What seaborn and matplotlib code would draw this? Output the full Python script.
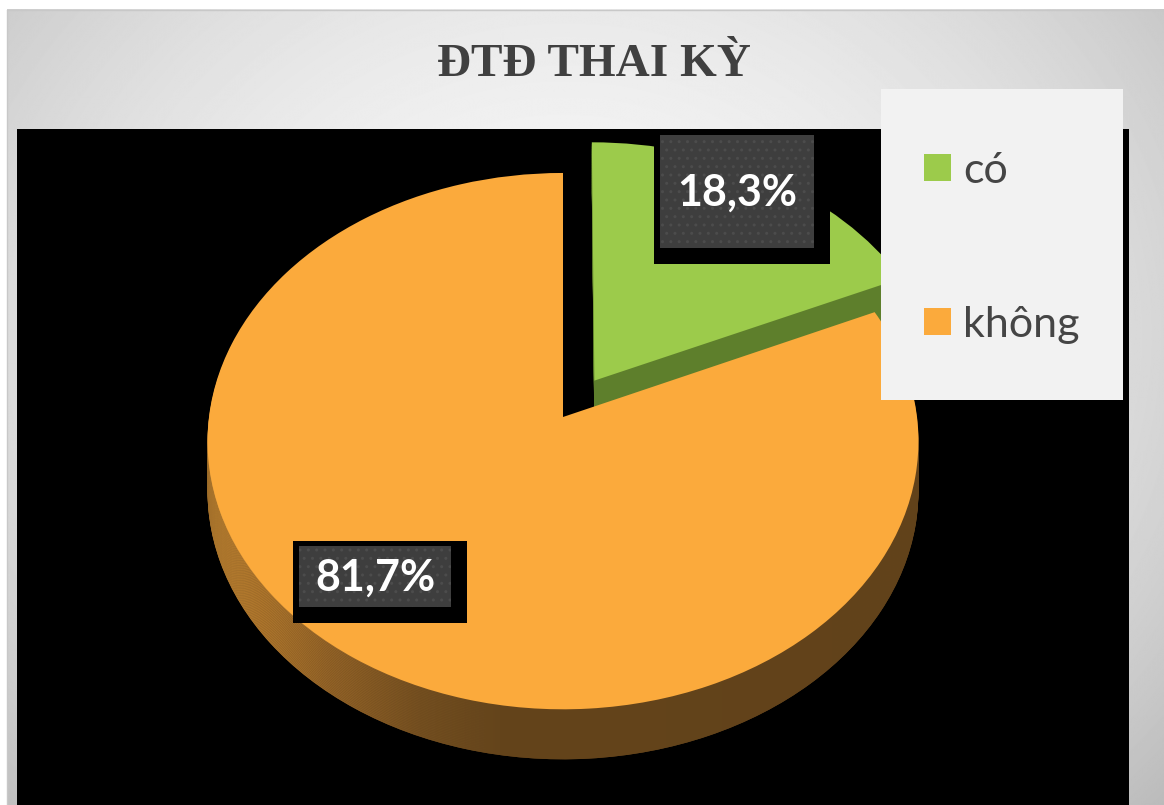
import numpy as np
import matplotlib
matplotlib.use("Agg")
import matplotlib.pyplot as plt
from matplotlib.patches import Rectangle
from matplotlib.transforms import Transform
import seaborn as sns

# ---------------- data ----------------
categories = ["có", "không"]
values = [18.3, 81.7]
value_labels = ["18,3%", "81,7%"]
title = "ĐTĐ THAI KỲ"

# ---------------- style ----------------
sns.set_style("white")
top_colors = sns.color_palette(["#9ccb4b", "#fbaa3c"])
side_colors = sns.color_palette(["#5e7f2c", "#66451c"])
plt.rcParams["font.family"] = ["Lato", "DejaVu Sans"]

W, H = 1164, 805
fig = plt.figure(figsize=(W / 100, H / 100), dpi=100)
fig.patch.set_facecolor("white")

# background axes in pixel coordinates
bg = fig.add_axes([0, 0, 1, 1], zorder=0)
bg.set_xlim(0, W)
bg.set_ylim(H, 0)
bg.axis("off")

yy, xx = np.mgrid[0:H, 0:W]
r2 = ((xx - 560) / 700.0) ** 2 + ((yy - 330) / 600.0) ** 2
grad = np.clip(0.965 - 0.17 * r2, 0, 1)
bg.imshow(grad, extent=(7, W, H, 10), cmap="gray", vmin=0, vmax=1,
          aspect="auto", interpolation="bilinear")
bg.plot([7, W], [10, 10], color="#c8c8c8", lw=1)
bg.plot([7, 7], [10, H], color="#c8c8c8", lw=1)
bg.add_patch(Rectangle((17, 129), 1129 - 17, H - 129 + 2, facecolor="black",
                       edgecolor="none"))
bg.set_xlim(0, W)
bg.set_ylim(H, 0)

bg.text(594, 76, title, ha="center", va="baseline", fontsize=34,
        fontweight="bold", color="#404040",
        family=["Liberation Serif", "DejaVu Serif"])


# ---------------- perspective view of the pie plane ----------------
class Perspective(Transform):
    input_dims = output_dims = 2
    is_separable = False
    has_inverse = False

    def __init__(self, cx, cy, a, b, k, dy=0.0):
        super().__init__()
        self.p = (cx, cy, a, b, k, dy)

    def transform_non_affine(self, values):
        cx, cy, a, b, k, dy = self.p
        values = np.asarray(values, dtype=float)
        u, v = values[:, 0], values[:, 1]
        den = 1.0 + k * v
        return np.column_stack([cx + a * u / den, cy - b * v / den + dy])


CX, CY = 563, 417      # projected pie centre (pixels)
A, B, K = 354, 266, 0.09
DEPTH = 50             # thickness in pixels

pax = fig.add_axes([0, 0, 1, 1], zorder=1)
pax.patch.set_alpha(0)

explode = [0.165, 0.0]
nlayers = 30

# horizontal gradient for orange side
xs = np.arange(W)
stops_x = [200, 260, 330, 420, 500, 1164]
stops_c = np.array([[0xcc, 0x8e, 0x36], [0xb4, 0x7a, 0x2e], [0x93, 0x63, 0x27],
                    [0x74, 0x4f, 0x20], [0x64, 0x44, 0x1b], [0x60, 0x41, 0x1a]]) / 255.0
side_grad = np.stack([np.interp(xs, stops_x, stops_c[:, k]) for k in range(3)], axis=-1)[None, :, :]

z = 1.0
for i in range(nlayers, 0, -1):
    T = Perspective(CX, CY, A, B, K, DEPTH * i / nlayers) + pax.transData
    wedges, _ = pax.pie(values, colors=side_colors, startangle=90,
                        counterclock=False, explode=explode, radius=1.0,
                        center=(0, 0), frame=True,
                        wedgeprops=dict(linewidth=0))
    for w in wedges:
        w.set_transform(T)
        w.set_zorder(z)
    im = pax.imshow(side_grad, extent=(0, W, H, 0), aspect="auto",
                    zorder=z + 0.001, interpolation="bilinear")
    im.set_clip_path(wedges[1])
    z += 0.01

T0 = Perspective(CX, CY, A, B, K, 0.0) + pax.transData
tops, _ = pax.pie(values, colors=top_colors, startangle=90, counterclock=False,
                  explode=explode, radius=1.0, center=(0, 0), frame=True,
                  wedgeprops=dict(linewidth=0))
for w in tops:
    w.set_transform(T0)
    w.set_zorder(z + 1)

pax.set_aspect("auto")
pax.set_xlim(0, W)
pax.set_ylim(H, 0)
pax.axis("off")

# ---------------- overlay: data labels + legend ----------------
ov = fig.add_axes([0, 0, 1, 1], zorder=2)
ov.patch.set_alpha(0)
ov.set_xlim(0, W)
ov.set_ylim(H, 0)
ov.axis("off")

label_boxes = [(660, 135, 154, 113), (299, 546, 152, 61)]
for (x0, y0, bw, bh), txt in zip(label_boxes, value_labels):
    ov.add_patch(Rectangle((x0 - 6, y0 - 5), bw + 22, bh + 21,
                           facecolor="black", edgecolor="none"))
    ov.add_patch(Rectangle((x0, y0), bw, bh, facecolor="#3e3e3e",
                           edgecolor="#4c4c4c", hatch="..", linewidth=0))
    ov.text(x0 + bw / 2, y0 + bh / 2 + 1, txt, ha="center", va="center",
            fontsize=31, fontweight="bold", color="white")

# legend box
ov.add_patch(Rectangle((881, 89), 1123 - 881, 400 - 89, facecolor="#f2f2f2",
                       edgecolor="none"))
legend_y = [183, 337]
for cat, col, yb in zip(categories, top_colors, legend_y):
    ov.add_patch(Rectangle((924, yb - 29), 27, 27, facecolor=col, edgecolor="none"))
    ov.text(963, yb, cat, ha="left", va="baseline", fontsize=31,
            color="#454545")

fig.savefig("out.png", dpi=100)
